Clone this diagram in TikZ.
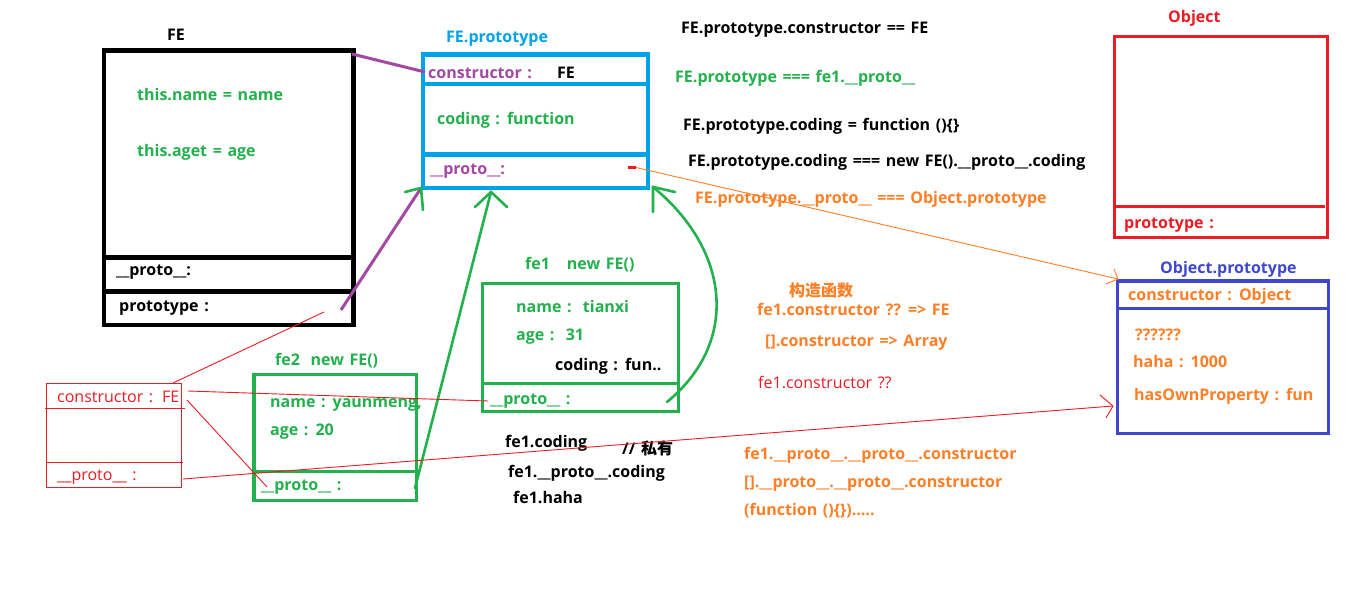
\documentclass[tikz,border=0pt]{standalone}
\usepackage{fontspec}
\setmainfont{Open Sans}[BoldFont={Open Sans Bold}, WordSpace=1.35]
\newfontfamily\cjk{Noto Sans CJK SC}
\definecolor{pgreen}{HTML}{22B14C}
\definecolor{pblue}{HTML}{00A2E8}
\definecolor{ppurple}{HTML}{A349A4}
\definecolor{pred}{HTML}{ED1C24}
\definecolor{porange}{HTML}{FF7F27}
\definecolor{pindigo}{HTML}{3F48CC}
\begin{document}
\begin{tikzpicture}[x=1pt,y=-1pt,
  t/.style={anchor=base west, inner sep=0pt, font=\bfseries\fontsize{16}{16}\selectfont},
  tr/.style={anchor=base west, inner sep=0pt, font=\fontsize{16}{16}\selectfont, text=pred},
  box/.style={draw, inner sep=0pt, outer sep=0pt, anchor=north west},
  gline/.style={draw=pgreen, line width=2.6pt, line cap=round},
  pline/.style={draw=ppurple, line width=3pt},
  thinred/.style={draw=pred, line width=0.9pt},
  thinor/.style={draw=porange, line width=0.9pt}]
\useasboundingbox (0,0) rectangle (1360,591);
\fill[white] (0,0) rectangle (1360,591);

% ---------- FE box ----------
\node[box, line width=4.5pt, minimum width=249.5pt, minimum height=274.5pt] (feBox) at (104,50.5) {};
\draw[line width=4.5pt] (104,257.5) -- (353.5,257.5);
\draw[line width=4.5pt] (104,291.5) -- (353.5,291.5);
\node[t] (feLbl) at (167,41) {FE};
\node[t, text=pgreen] (feName) at (137,101) {this.name = name};
\node[t, text=pgreen] (feAge) at (137,157) {this.aget = age};
\node[t] (feProto) at (116,275) {\_\_proto\_\_:};
\node[t] (fePrototype) at (119,311) {prototype :};

% ---------- FE.prototype box ----------
\node[box, draw=pblue, line width=4.7pt, minimum width=225pt, minimum height=133.5pt] (fpBox) at (423,54.5) {};
\draw[pblue, line width=4.7pt] (423,84) -- (648,84);
\draw[pblue, line width=4.7pt] (423,154.5) -- (650,154.5);
\node[t, text=pblue] (fpLbl) at (446,43) {FE.prototype};
\node[t, text=ppurple] (fpCons) at (428,79) {constructor :};
\node[t] (fpFE) at (557,79) {FE};
\node[t, text=pgreen] (fpCoding) at (437,125) {coding : function};
\node[t, text=ppurple] (fpProto) at (430,175) {\_\_proto\_\_:};
\fill[pred] (628,166) rectangle (636,168.6);
\coordinate (fpDash) at (636,167.5);

% ---------- top right texts ----------
\node[t] (r1) at (681,34) {FE.prototype.constructor == FE};
\node[t, text=pgreen] (r2) at (675,83) {FE.prototype === fe1.\_\_proto\_\_};
\node[t] (r3) at (683,131) {FE.prototype.coding = function ()\{\}};
\node[t] (r4) at (688,167) {FE.prototype.coding === new FE().\_\_proto\_\_.coding};
\node[t, text=porange] (r5) at (695,203) {FE.prototype.\_\_proto\_\_ === Object.prototype};

% ---------- Object box ----------
\node[box, draw=pred, line width=3pt, minimum width=213.3pt, minimum height=200.5pt] (objBox) at (1114,36.7) {};
\draw[pred, line width=3pt] (1114,206.5) -- (1325,206.5);
\node[t, text=pred] (objLbl) at (1168,23) {Object};
\node[t, text=pred] (objProt) at (1124,228) {prototype :};

% ---------- Object.prototype box ----------
\node[box, draw=pindigo, line width=3.3pt, minimum width=211.4pt, minimum height=152.2pt] (opBox) at (1117.3,281) {};
\draw[pindigo, line width=3.3pt] (1117.3,308.3) -- (1328.7,308.3);
\node[t, text=pindigo] (opLbl) at (1160,273) {Object.prototype};
\node[t, text=porange] (opCons) at (1128,300) {constructor : Object};
\node[t, text=porange] (opQ) at (1135,340) {??????};
\node[t, text=porange] (opHaha) at (1133,367) {haha : 1000};
\node[t, text=porange] (opHas) at (1134,400) {hasOwnProperty : fun};

% ---------- fe1 box ----------
\node[box, draw=pgreen, line width=3pt, minimum width=195.7pt, minimum height=127.8pt] (fe1Box) at (482.5,283.7) {};
\draw[pgreen, line width=3pt] (482.5,383) -- (678.2,383);
\node[t, text=pgreen] (fe1Lbl) at (525,269) {fe1\hspace{17pt}new FE()};
\node[t, text=pgreen] (fe1Name) at (516,312) {name :\ \ tianxi};
\node[t, text=pgreen] (fe1Age) at (516,340) {age :\ \ 31};
\node[t] (fe1Coding) at (555,370) {coding : fun..};
\node[t, text=pgreen] (fe1Proto) at (490,404) {\_\_proto\_\_ :};

% ---------- fe2 box ----------
\node[box, draw=pgreen, line width=3.2pt, minimum width=162.7pt, minimum height=126pt] (fe2Box) at (254,374.5) {};
\draw[pgreen, line width=3.2pt] (254,471.5) -- (416.7,471.5);
\node[t, text=pgreen] (fe2Lbl) at (275,365) {fe2\hspace{5pt} new FE()};
\node[t, text=pgreen] (fe2Name) at (270,407) {name : yaunmeng,};
\node[t, text=pgreen] (fe2Age) at (270,435) {age : 20};
\node[t, text=pgreen] (fe2Proto) at (261,490) {\_\_proto\_\_ :};

% ---------- small red box ----------
\node[box, draw=pred, line width=1.3pt, minimum width=135pt, minimum height=104.4pt] (rBox) at (46.7,383.3) {};
\draw[pred, line width=1.3pt] (45,408.3) -- (185,408.3);
\draw[pred, line width=1.3pt] (47,462.3) -- (182.7,462.3);
\node[tr] (rCons) at (57,402) {constructor :};
\node[tr] (rFE) at (162,402) {FE};
\node[tr] (rProto) at (57,480) {\_\_proto\_\_ :};

% ---------- middle texts ----------
\node[t] (m1) at (505,447) {fe1.coding};
\node[t] (m2) at (622,454) {// {\cjk\bfseries 私有}};
\node[t] (m3) at (508,477) {fe1.\_\_proto\_\_.coding};
\node[t] (m4) at (513,503) {fe1.haha};

% ---------- orange texts ----------
\node[t, text=porange] (o0) at (789,296) {\cjk\bfseries 构造函数};
\node[t, text=porange] (o1) at (757,315) {fe1.constructor ?? => FE};
\node[t, text=porange] (o2) at (765,346) {[].constructor => Array};
\node[tr] (o3) at (758,388) {fe1.constructor ??};
\node[t, text=porange] (o4) at (744,459) {fe1.\_\_proto\_\_.\_\_proto\_\_.constructor};
\node[t, text=porange] (o5) at (744,487) {[].\_\_proto\_\_.\_\_proto\_\_.constructor};
\node[t, text=porange] (o6) at (744,515) {(function ()\{\}).....};

% ---------- connector coordinates ----------
\coordinate (feTR) at (352,54);
\coordinate (fpConsL) at (425,72);
\coordinate (fePrRow) at (341,310);
\coordinate (tipA) at (421,188);
\coordinate (tipB) at (491,192);
\coordinate (tipC) at (653,187);
\coordinate (fe2P) at (415,488);
\coordinate (fe1P) at (667,402);
\coordinate (opTL) at (1118,279);
\coordinate (opL) at (1113,406);
\coordinate (rTR) at (173,383);
\coordinate (feRowEnd) at (324,312);
\coordinate (rConsR) at (188,391);
\coordinate (fe1PL) at (488,401);
\coordinate (rFEb) at (187,400);
\coordinate (fe2PL) at (267,487);
\coordinate (rProtoR) at (183,479);

% purple links
\draw[pline] (feTR) -- (fpConsL);
\draw[pline] (fePrRow) -- (tipA);

% green links
\draw[gline] (fe2P) -- (tipB);
\draw[gline] (fe1P) .. controls (740,342) and (730,250) .. (tipC);
\draw[gline] (405,192) -- (tipA) -- (423,210);
\draw[gline] (475,207) -- (tipB) -- (507,207);
\draw[gline] (675,192) -- (tipC) -- (653,212);

% orange link
\draw[thinor] (fpDash) -- (opTL);
\draw[thinor] (1114,269) -- (opTL) -- (1106,284);

% red links
\draw[thinred] (rTR) -- (feRowEnd);
\draw[thinred] (rConsR) -- (fe1PL);
\draw[thinred] (rFEb) -- (fe2PL);
\draw[thinred] (rProtoR) -- (opL);
\draw[thinred] (1100,395) -- (opL) -- (1106,418);
\end{tikzpicture}
\end{document}
